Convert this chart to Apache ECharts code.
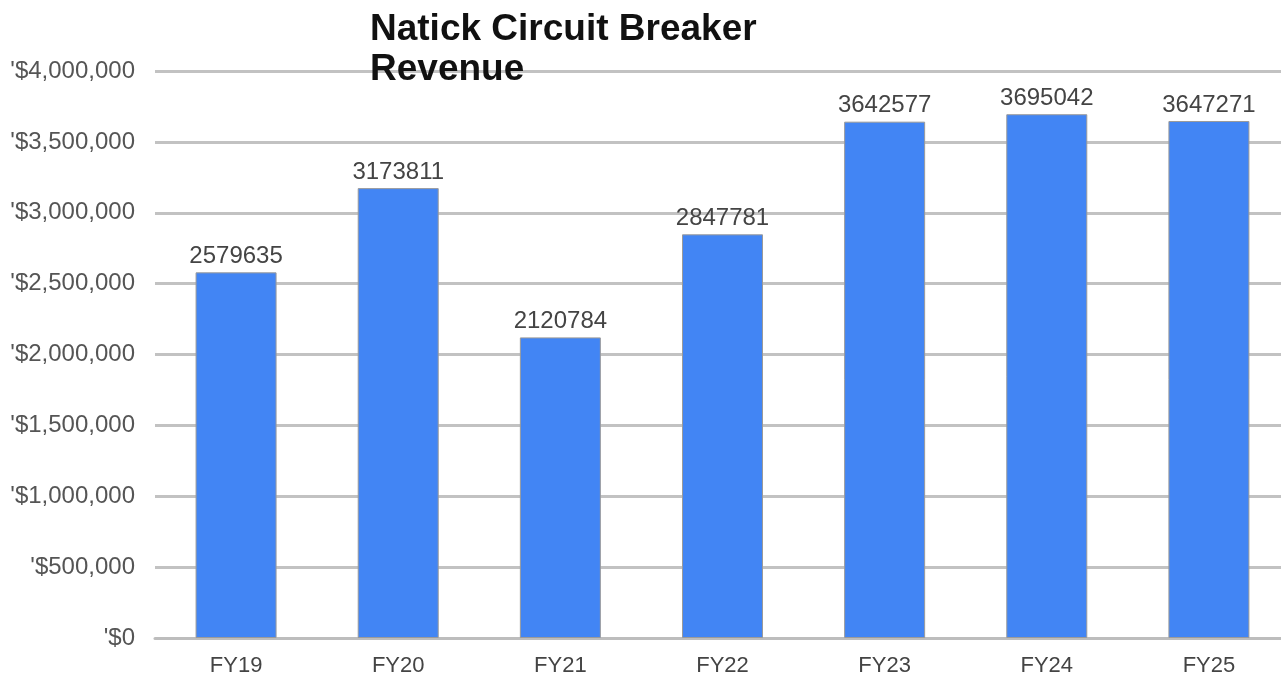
<!DOCTYPE html>
<html>
<head>
<meta charset="utf-8">
<script src="https://cdn.jsdelivr.net/npm/echarts@6/dist/echarts.min.js"></script>
<style>
html,body{margin:0;padding:0;background:#fff;overflow:hidden;width:1281px;height:677px;}
#chart{width:1300px;height:677px;}
</style>
</head>
<body>
<div id="chart"></div>
<script>
const titleText = "Natick Circuit Breaker\nRevenue";
const categories = ["FY19", "FY20", "FY21", "FY22", "FY23", "FY24", "FY25"];
const revenue = [2579635, 3173811, 2120784, 2847781, 3642577, 3695042, 3647271];
const yMin = 0, yMax = 4000000, yStep = 500000;

const chart = echarts.init(document.getElementById('chart'), null, {renderer: 'canvas'});
const font = '"Liberation Sans", Arial, sans-serif';
chart.setOption({
  animation: false,
  backgroundColor: '#ffffff',
  title: {
    text: titleText,
    left: 365,
    top: 5,
    textStyle: {fontFamily: font, fontSize: 37, fontWeight: 'bold', color: '#111', lineHeight: 40}
  },
  grid: {left: 155, top: 71, width: 1135, height: 568, containLabel: false},
  xAxis: {
    type: 'category',
    data: categories,
    axisLine: {show: true, lineStyle: {color: '#bdbdbd', width: 3}},
    axisTick: {show: false},
    axisLabel: {fontFamily: font, fontSize: 22, color: '#444', margin: 17}
  },
  yAxis: {
    type: 'value',
    min: yMin, max: yMax, interval: yStep,
    axisLine: {show: false},
    axisTick: {show: false},
    splitLine: {lineStyle: {color: '#c2c2c2', width: 3}},
    axisLabel: {
      fontFamily: font, fontSize: 24, color: '#555', margin: 20,
      formatter: v => "'$" + v.toLocaleString('en-US')
    }
  },
  series: [{
    type: 'bar',
    data: revenue,
    barWidth: 81,
    itemStyle: {color: '#4285f4', borderColor: '#9a9a9a', borderWidth: 1},
    label: {show: true, position: 'top', distance: 4, fontFamily: font, fontSize: 24, color: '#444'}
  }]
});
</script>
</body>
</html>
